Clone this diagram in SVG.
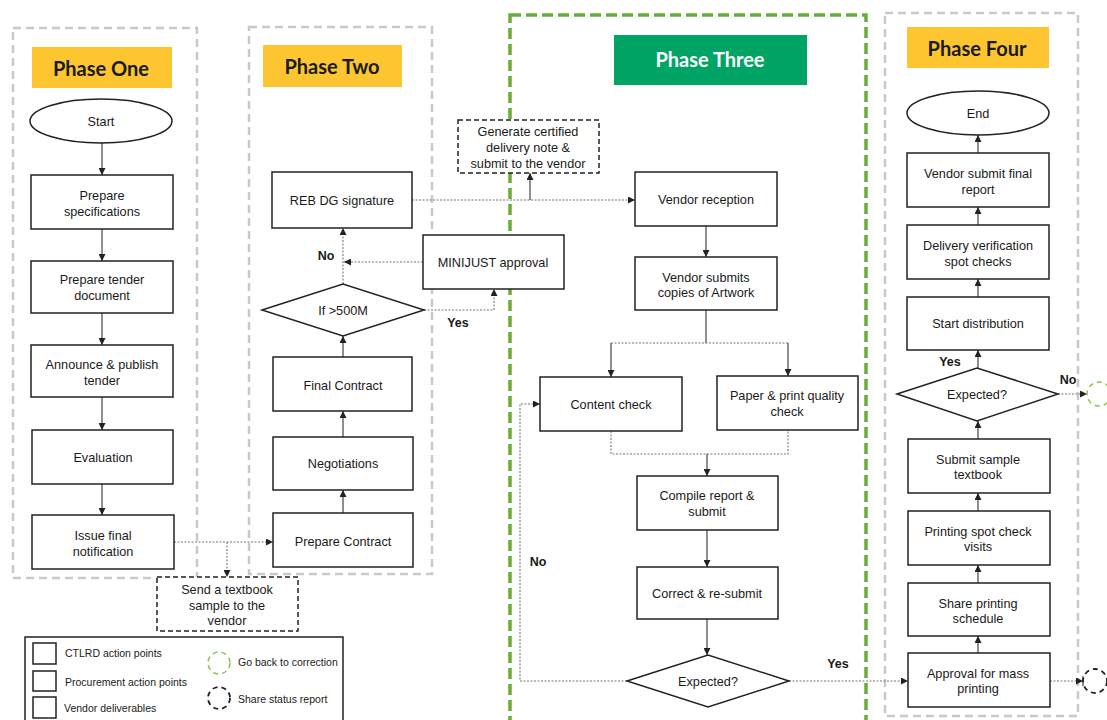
<svg xmlns="http://www.w3.org/2000/svg" width="1107" height="720" viewBox="0 0 1107 720">
<defs>
<style>
.bg{fill:#ffffff}
.cont{fill:none;stroke:#c9c9c9;stroke-width:2.5;stroke-dasharray:8 5}
.cont3{fill:none;stroke:#6aac3a;stroke-width:3.5;stroke-dasharray:11 5}
.hy{fill:#fdc530}
.hg{fill:#00a565}
.ht{font-family:Lato,"Liberation Sans",sans-serif;font-weight:bold;font-size:20px;text-anchor:middle;fill:#1a1a1a}
.htw{font-family:Lato,"Liberation Sans",sans-serif;font-weight:bold;font-size:20px;text-anchor:middle;fill:#ffffff}
.box{fill:#ffffff;stroke:#222222;stroke-width:1.5}
.dbox{fill:#ffffff;stroke:#222222;stroke-width:1.5;stroke-dasharray:5 3}
.t{font-family:"Liberation Sans",Arial,sans-serif;font-size:12.7px;text-anchor:middle;fill:#1a1a1a}
.lb{font-family:"Liberation Sans",Arial,sans-serif;font-size:12.5px;font-weight:bold;text-anchor:middle;fill:#1a1a1a}
.lg{font-family:"Liberation Sans",Arial,sans-serif;font-size:10.5px;fill:#1a1a1a}
.c{fill:none;stroke:#333333;stroke-width:1.1}
.cd{fill:none;stroke:#777777;stroke-width:1.1;stroke-dasharray:2 1.5}
.gc{fill:none;stroke:#8cc152;stroke-width:1.5;stroke-dasharray:5 4}
.kc{fill:none;stroke:#222222;stroke-width:1.8;stroke-dasharray:5 4}
</style>
<marker id="ah" viewBox="0 0 8 8" markerWidth="7" markerHeight="7" refX="8" refY="4" orient="auto" markerUnits="userSpaceOnUse">
<path d="M0,0 L8,4 L0,8 z" fill="#222222"/>
</marker>
</defs>
<rect class="bg" x="0" y="0" width="1107" height="720"/>

<g id="containers">
<rect class="cont" x="13" y="28" width="184" height="550"/>
<rect class="cont" x="249" y="27" width="183" height="547"/>
<rect class="cont3" x="510" y="15" width="356" height="712"/>
<rect class="cont" x="885" y="13" width="193" height="703"/>
</g>

<g id="phase-one-title"><rect class="hy" x="32" y="47" width="140" height="41"/><text class="ht" x="101" y="76">Phase One</text></g>
<g id="phase-two-title"><rect class="hy" x="263" y="45" width="139" height="42"/><text class="ht" x="332" y="74">Phase Two</text></g>
<g id="phase-three-title"><rect class="hg" x="614" y="35" width="193" height="50"/><text class="htw" x="710" y="67">Phase Three</text></g>
<g id="phase-four-title"><rect class="hy" x="907" y="27" width="142" height="41"/><text class="ht" x="977" y="56">Phase Four</text></g>

<g id="connectors">
<line class="c" x1="102" y1="143" x2="102" y2="175" marker-end="url(#ah)"/>
<line class="c" x1="102" y1="229" x2="102" y2="261" marker-end="url(#ah)"/>
<line class="c" x1="102" y1="313" x2="102" y2="345" marker-end="url(#ah)"/>
<line class="c" x1="102" y1="397" x2="102" y2="430" marker-end="url(#ah)"/>
<line class="c" x1="102" y1="484" x2="102" y2="515" marker-end="url(#ah)"/>
<line class="cd" x1="174" y1="542" x2="273" y2="542" marker-end="url(#ah)"/>
<line class="cd" x1="227" y1="542" x2="227" y2="577" marker-end="url(#ah)"/>

<line class="c" x1="343" y1="513" x2="343" y2="490" marker-end="url(#ah)"/>
<line class="c" x1="343" y1="437" x2="343" y2="411" marker-end="url(#ah)"/>
<line class="c" x1="343" y1="357" x2="343" y2="336" marker-end="url(#ah)"/>
<line class="cd" x1="343" y1="284" x2="343" y2="228" marker-end="url(#ah)"/>
<line class="cd" x1="423" y1="262" x2="344" y2="262" marker-end="url(#ah)"/>
<polyline class="cd" points="424,310 494,310 494,289" marker-end="url(#ah)"/>
<line class="cd" x1="412" y1="200" x2="635" y2="200" marker-end="url(#ah)"/>
<line class="c" x1="530" y1="200" x2="530" y2="173" marker-end="url(#ah)"/>

<line class="c" x1="706" y1="226" x2="706" y2="257" marker-end="url(#ah)"/>
<line class="c" x1="706" y1="310" x2="706" y2="343"/>
<line class="cd" x1="611" y1="343" x2="788" y2="343"/>
<line class="c" x1="611" y1="343" x2="611" y2="377" marker-end="url(#ah)"/>
<line class="c" x1="788" y1="343" x2="788" y2="376" marker-end="url(#ah)"/>
<polyline class="cd" points="611,431 611,454 788,454 788,430"/>
<line class="c" x1="707" y1="454" x2="707" y2="476" marker-end="url(#ah)"/>
<line class="c" x1="707" y1="530" x2="707" y2="567" marker-end="url(#ah)"/>
<line class="c" x1="707" y1="619" x2="707" y2="655" marker-end="url(#ah)"/>
<polyline class="cd" points="627,681 520,681 520,404 540,404" marker-end="url(#ah)"/>
<line class="cd" x1="789" y1="681" x2="908" y2="681" marker-end="url(#ah)"/>

<line class="c" x1="978" y1="653" x2="978" y2="636" marker-end="url(#ah)"/>
<line class="c" x1="978" y1="583" x2="978" y2="565" marker-end="url(#ah)"/>
<line class="c" x1="978" y1="511" x2="978" y2="493" marker-end="url(#ah)"/>
<line class="c" x1="978" y1="439" x2="978" y2="421" marker-end="url(#ah)"/>
<line class="c" x1="978" y1="368" x2="978" y2="350" marker-end="url(#ah)"/>
<line class="c" x1="978" y1="297" x2="978" y2="279" marker-end="url(#ah)"/>
<line class="c" x1="978" y1="225" x2="978" y2="207" marker-end="url(#ah)"/>
<line class="c" x1="978" y1="153" x2="978" y2="135" marker-end="url(#ah)"/>
<line class="cd" x1="1058" y1="394" x2="1087" y2="394" marker-end="url(#ah)"/>
<line class="cd" x1="1050" y1="681" x2="1083" y2="681" marker-end="url(#ah)"/>
<line class="c" x1="1083" y1="676" x2="1083" y2="686"/>

<text class="lb" x="326" y="260">No</text>
<text class="lb" x="458" y="327">Yes</text>
<text class="lb" x="538" y="566">No</text>
<text class="lb" x="838" y="668">Yes</text>
<text class="lb" x="950" y="366">Yes</text>
<text class="lb" x="1068" y="384">No</text>
</g>

<g id="start"><ellipse class="box" cx="101" cy="121" rx="71" ry="22"/><text class="t" x="101" y="125.5">Start</text></g>
<g id="prepare-specifications"><rect class="box" x="31" y="175" width="142" height="54"/><text class="t" x="102" y="199.5">Prepare</text><text class="t" x="102" y="215.5">specifications</text></g>
<g id="prepare-tender"><rect class="box" x="31" y="261" width="142" height="52"/><text class="t" x="102" y="283.5">Prepare tender</text><text class="t" x="102" y="299.5">document</text></g>
<g id="announce-tender"><rect class="box" x="31" y="345" width="142" height="52"/><text class="t" x="102" y="368.5">Announce &amp; publish</text><text class="t" x="102" y="384.5">tender</text></g>
<g id="evaluation"><rect class="box" x="32" y="430" width="141" height="54"/><text class="t" x="103" y="461.5">Evaluation</text></g>
<g id="issue-notification"><rect class="box" x="32" y="515" width="142" height="54"/><text class="t" x="103" y="539.5">Issue final</text><text class="t" x="103" y="555.5">notification</text></g>
<g id="send-sample"><rect class="dbox" x="157" y="577" width="141" height="54"/><text class="t" x="227" y="593.5">Send a textbook</text><text class="t" x="227" y="609.5">sample to the</text><text class="t" x="227" y="624.5">vendor</text></g>

<g id="reb-dg"><rect class="box" x="272" y="172" width="140" height="56"/><text class="t" x="342" y="204.5">REB DG signature</text></g>
<g id="if-500m"><polygon class="box" points="262,310 343,284 424,310 343,336"/><text class="t" x="343" y="314.5">If &gt;500M</text></g>
<g id="minijust"><rect class="box" x="423" y="235" width="141" height="54"/><text class="t" x="493" y="266.5">MINIJUST approval</text></g>
<g id="final-contract"><rect class="box" x="273" y="357" width="139" height="54"/><text class="t" x="343" y="389.5">Final Contract</text></g>
<g id="negotiations"><rect class="box" x="273" y="437" width="140" height="53"/><text class="t" x="343" y="467.5">Negotiations</text></g>
<g id="prepare-contract"><rect class="box" x="273" y="513" width="140" height="54"/><text class="t" x="343" y="545.5">Prepare Contract</text></g>
<g id="delivery-note"><rect class="dbox" x="458" y="120" width="141" height="53"/><text class="t" x="528" y="135.5">Generate certified</text><text class="t" x="528" y="152">delivery note &amp;</text><text class="t" x="528" y="167.5">submit to the vendor</text></g>

<g id="vendor-reception"><rect class="box" x="635" y="172" width="142" height="54"/><text class="t" x="706" y="203.5">Vendor reception</text></g>
<g id="vendor-artwork"><rect class="box" x="635" y="257" width="142" height="53"/><text class="t" x="706" y="281.5">Vendor submits</text><text class="t" x="706" y="296.5">copies of Artwork</text></g>
<g id="content-check"><rect class="box" x="540" y="377" width="142" height="54"/><text class="t" x="611" y="408.5">Content check</text></g>
<g id="paper-check"><rect class="box" x="717" y="376" width="141" height="54"/><text class="t" x="787" y="399.5">Paper &amp; print quality</text><text class="t" x="787" y="415.5">check</text></g>
<g id="compile-report"><rect class="box" x="637" y="476" width="141" height="54"/><text class="t" x="707" y="499.5">Compile report &amp;</text><text class="t" x="707" y="515.5">submit</text></g>
<g id="correct-resubmit"><rect class="box" x="637" y="567" width="141" height="52"/><text class="t" x="707" y="597.5">Correct &amp; re-submit</text></g>
<g id="expected-3"><polygon class="box" points="627,681 708,655 789,681 708,707"/><text class="t" x="708" y="685.5">Expected?</text></g>

<g id="end"><ellipse class="box" cx="978" cy="113" rx="71" ry="22"/><text class="t" x="978" y="117.5">End</text></g>
<g id="final-report"><rect class="box" x="907" y="153" width="142" height="54"/><text class="t" x="978" y="177.5">Vendor submit final</text><text class="t" x="978" y="194">report</text></g>
<g id="delivery-verification"><rect class="box" x="907" y="225" width="142" height="54"/><text class="t" x="978" y="249.5">Delivery verification</text><text class="t" x="978" y="265.5">spot checks</text></g>
<g id="start-distribution"><rect class="box" x="907" y="297" width="142" height="53"/><text class="t" x="978" y="327.5">Start distribution</text></g>
<g id="expected-4"><polygon class="box" points="897,394 977,368 1058,394 977,421"/><text class="t" x="977" y="399">Expected?</text></g>
<g id="submit-sample"><rect class="box" x="908" y="439" width="142" height="54"/><text class="t" x="978" y="463.5">Submit sample</text><text class="t" x="978" y="478.5">textbook</text></g>
<g id="spot-check"><rect class="box" x="908" y="511" width="142" height="54"/><text class="t" x="978" y="535.5">Printing spot check</text><text class="t" x="978" y="550.5">visits</text></g>
<g id="share-schedule"><rect class="box" x="908" y="583" width="142" height="53"/><text class="t" x="978" y="607.5">Share printing</text><text class="t" x="978" y="622.5">schedule</text></g>
<g id="mass-printing"><rect class="box" x="908" y="653" width="142" height="54"/><text class="t" x="978" y="677.5">Approval for mass</text><text class="t" x="978" y="693">printing</text></g>
<g id="go-back-circle"><circle class="gc" cx="1099" cy="394" r="12"/></g>
<g id="status-circle"><circle class="kc" cx="1095" cy="681" r="12"/></g>

<g id="legend">
<rect fill="#ffffff" stroke="#222222" stroke-width="1.5" x="25" y="637" width="318" height="90"/>
<rect class="box" x="33" y="643" width="23" height="21"/>
<rect class="box" x="33" y="671" width="23" height="20"/>
<rect class="box" x="33" y="697" width="23" height="21"/>
<text class="lg" x="65" y="657">CTLRD action points</text>
<text class="lg" x="65" y="686">Procurement action points</text>
<text class="lg" x="64" y="712">Vendor deliverables</text>
<circle class="gc" cx="219" cy="663" r="11"/>
<circle class="kc" cx="219" cy="698" r="11"/>
<text class="lg" x="238" y="666">Go back to correction</text>
<text class="lg" x="238" y="703">Share status report</text>
</g>
</svg>
